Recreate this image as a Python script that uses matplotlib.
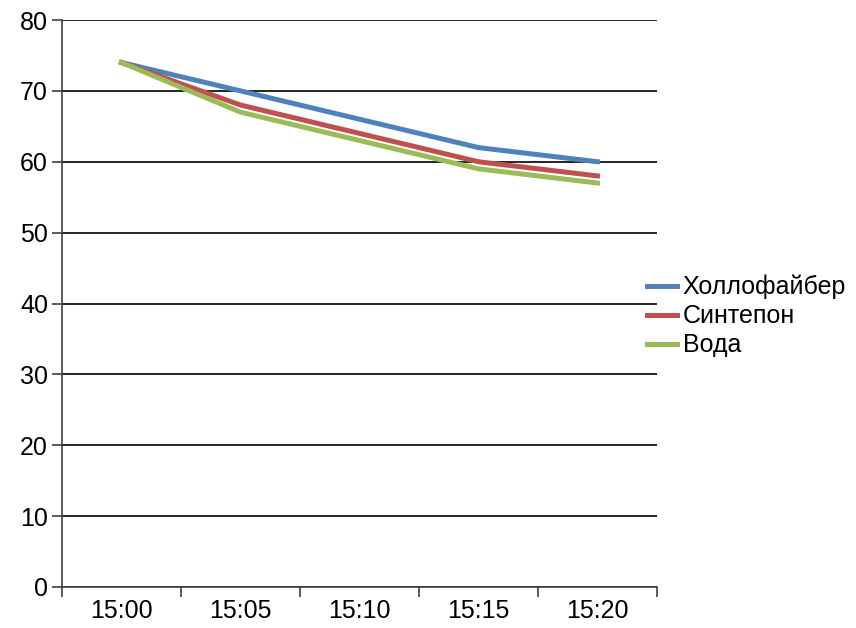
import matplotlib.pyplot as plt
import numpy as np

plt.rcParams['font.family'] = ['Liberation Sans', 'DejaVu Sans']

times = ['15:00', '15:05', '15:10', '15:15', '15:20']
hollofiber = [74, 70, 66, 62, 60]
sintepon = [74, 68, 64, 60, 58]
voda = [74, 67, 63, 59, 57]

fig = plt.figure(figsize=(8.56, 6.28), dpi=100)
ax = fig.add_axes([62 / 856, 41 / 628, 595 / 856, 567 / 628])

x = np.arange(len(times))
ax.plot(x, hollofiber, color='#4F81BD', lw=3.6, label='Холлофайбер', zorder=3)
ax.plot(x, sintepon, color='#C0504D', lw=3.6, label='Синтепон', zorder=3)
ax.plot(x, voda, color='#9BBB59', lw=3.6, label='Вода', zorder=3)

ax.set_xlim(-0.5, len(times) - 0.5)
ax.set_ylim(0, 80)
ax.set_yticks(range(0, 81, 10))
ax.yaxis.grid(True, color='black', lw=1.2)
ax.set_axisbelow(True)

ax.set_xticks(x)
ax.set_xticklabels(times)
ax.set_xticks(np.arange(-0.5, len(times), 1), minor=True)
ax.tick_params(axis='x', which='major', length=0, pad=9, labelsize=18)
ax.tick_params(axis='x', which='minor', length=7, width=1.2, color='#404040')
ax.tick_params(axis='y', length=7, width=1.2, color='#404040', labelsize=18, pad=3)

for s in ['top', 'right']:
    ax.spines[s].set_visible(False)
for s in ['left', 'bottom']:
    ax.spines[s].set_color('#404040')
    ax.spines[s].set_linewidth(1.2)

fig.legend(loc='center left', bbox_to_anchor=(634 / 856, 1 - 316 / 628),
           frameon=False, fontsize=18, handlelength=1.2, handletextpad=0.25,
           labelspacing=0.2, borderpad=0)

fig.savefig('out.png', dpi=100)
